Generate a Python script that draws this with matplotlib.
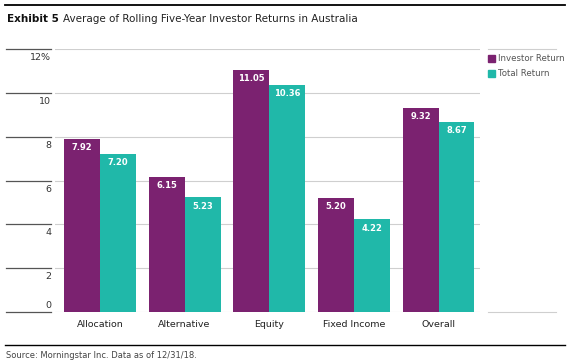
import matplotlib
matplotlib.use("Agg")
import matplotlib.pyplot as plt
import matplotlib.transforms as mtransforms
from matplotlib.lines import Line2D
from matplotlib.patches import Rectangle
import numpy as np

plt.rcParams['font.family'] = ['Liberation Sans Narrow', 'DejaVu Sans Condensed', 'DejaVu Sans']

# data
categories = ["Allocation", "Alternative", "Equity", "Fixed Income", "Overall"]
investor_return = [7.92, 6.15, 11.05, 5.20, 9.32]
total_return = [7.20, 5.23, 10.36, 4.22, 8.67]
series_names = ["Investor Return", "Total Return"]
y_ticks = [0, 2, 4, 6, 8, 10, 12]
y_tick_labels = ["0", "2", "4", "6", "8", "10", "12%"]

purple = "#7b2270"
teal = "#20b8a9"
grid_grey = "#cfcfcf"
text_grey = "#444444"

W, H = 569, 362
fig = plt.figure(figsize=(W / 100, H / 100), dpi=100)

def fx(px):
    return px / W

def fy(py):
    return 1 - py / H

ax = fig.add_axes([fx(55), fy(311.7), fx(480) - fx(55), fy(49.3) - fy(311.7)])

x = np.arange(len(categories))
w = 0.425
b1 = ax.bar(x - w / 2, investor_return, w, color=purple, zorder=3)
b2 = ax.bar(x + w / 2, total_return, w, color=teal, zorder=3)

for bars, vals in [(b1, investor_return), (b2, total_return)]:
    for r, v in zip(bars, vals):
        ax.annotate(f"{v:.2f}", (r.get_x() + r.get_width() / 2, v),
                    xytext=(0, -3), textcoords="offset points",
                    ha="center", va="top", color="white",
                    fontsize=6, fontweight="bold", zorder=4)

ax.set_xlim(-0.53, 4.49)
ax.set_ylim(0, 12)
for s in ax.spines.values():
    s.set_visible(False)
ax.set_yticks([])
ax.set_xticks(x)
ax.set_xticklabels(categories, fontsize=6.8, color="#222222")
ax.tick_params(axis="x", length=0, pad=6)

# gridlines and left column
blend = mtransforms.blended_transform_factory(fig.transFigure, ax.transData)
for t, lab in zip(y_ticks, y_tick_labels):
    ax.axhline(t, color=grid_grey, lw=0.8, zorder=1)
    fig.add_artist(Line2D([fx(6), fx(51)], [t, t], transform=blend,
                          color="#555555", lw=0.9))
    if t == 0:
        off = mtransforms.offset_copy(blend, fig=fig, y=1.5, units="dots")
        fig.text(fx(51), t, lab, transform=off, ha="right", va="bottom",
                 fontsize=6.8, color="#333333")
    else:
        off = mtransforms.offset_copy(blend, fig=fig, y=-4, units="dots")
        fig.text(fx(51), t, lab, transform=off, ha="right", va="top",
                 fontsize=6.8, color="#333333")

# legend column
for t in [0, 12]:
    fig.add_artist(Line2D([fx(488), fx(556)], [t, t], transform=blend,
                          color=grid_grey, lw=0.8))
for i, (name, col) in enumerate(zip(series_names, [purple, teal])):
    yc = 58.5 + i * 15
    fig.add_artist(Rectangle((fx(488), fy(yc + 3.5)), fx(7), 7 / H,
                             color=col, transform=fig.transFigure))
    fig.text(fx(498), fy(yc), name, ha="left", va="center",
             fontsize=6.2, color="#555555")

# header and footer rules
fig.add_artist(Line2D([fx(5), fx(565)], [fy(5), fy(5)], color="black", lw=1.3))
fig.add_artist(Line2D([fx(5), fx(565)], [fy(345), fy(345)], color="black", lw=1.0))

t1 = fig.text(fx(7), fy(18.5), "Exhibit 5", ha="left", va="center",
              fontsize=7.5, fontweight="bold", color="#111111")
fig.canvas.draw()
bb = t1.get_window_extent()
fig.text((bb.x1 + 4) / W, fy(18.5), "Average of Rolling Five-Year Investor Returns in Australia",
         ha="left", va="center", fontsize=7.5, color="#222222")

fig.text(fx(6), fy(355.5), "Source: Morningstar Inc. Data as of 12/31/18.",
         ha="left", va="center", fontsize=6, color=text_grey)

fig.savefig("out.png", dpi=100)
